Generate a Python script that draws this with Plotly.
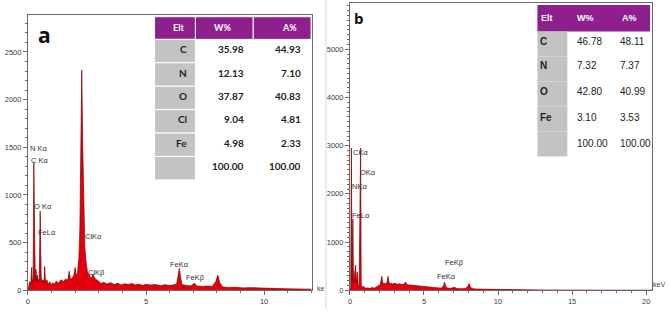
import plotly.graph_objects as go

W, H = 669, 314

# ---------------- data: panel a ----------------
spectrum_a = [
    (0.00, 0), (0.04, 40), (0.08, 90), (0.12, 60), (0.16, 240), (0.19, 70), (0.22, 120),
    (0.25, 1340), (0.28, 150), (0.31, 90), (0.34, 220), (0.37, 110), (0.40, 160), (0.44, 90),
    (0.48, 130), (0.52, 830), (0.56, 140), (0.60, 90), (0.64, 110), (0.68, 80), (0.71, 250),
    (0.74, 90), (0.80, 110), (0.86, 60), (0.92, 90), (1.00, 55), (1.05, 80), (1.10, 60),
    (1.20, 95), (1.30, 75), (1.40, 110), (1.50, 90), (1.60, 120), (1.68, 100), (1.75, 200),
    (1.80, 110), (1.88, 130), (1.95, 160), (2.00, 240), (2.05, 150), (2.10, 180), (2.16, 350),
    (2.20, 650), (2.24, 1400), (2.28, 2310), (2.32, 1500), (2.36, 800), (2.41, 450), (2.46, 300),
    (2.52, 190), (2.60, 160), (2.68, 120), (2.76, 170), (2.82, 130), (2.90, 110), (3.00, 95),
    (3.10, 70), (3.20, 85), (3.35, 65), (3.50, 80), (3.65, 60), (3.80, 75), (3.95, 55),
    (4.10, 70), (4.25, 60), (4.40, 72), (4.55, 55), (4.70, 65), (4.85, 50), (5.00, 62),
    (5.20, 55), (5.40, 60), (5.60, 48), (5.80, 58), (6.00, 50), (6.15, 55), (6.30, 70),
    (6.36, 150), (6.41, 230), (6.46, 140), (6.52, 60), (6.70, 50), (6.90, 45), (7.05, 75),
    (7.15, 45), (7.40, 40), (7.60, 45), (7.80, 40), (7.95, 90), (8.04, 160), (8.12, 80),
    (8.25, 35), (8.50, 30), (8.80, 32), (9.10, 25), (9.40, 28), (9.80, 22), (10.2, 20),
    (10.6, 18), (11.0, 15), (11.4, 14), (11.8, 12), (12.0, 12),
]
peak_labels_a = [
    ("N Kα", 0.0, 1490), ("C Kα", 0.03, 1360), ("O Kα", 0.16, 880), ("FeLα", 0.35, 610),
    ("ClKα", 2.35, 560), ("ClKβ", 2.45, 185), ("FeKα", 5.95, 270), ("FeKβ", 6.6, 135),
]
x_ticks_a = [0, 5, 10]
y_ticks_a = [0, 500, 1000, 1500, 2000, 2500]
table_a_header = ["Elt", "W%", "A%"]
table_a_elt = ["C", "N", "O", "Cl", "Fe", ""]
table_a_w = ["35.98", "12.13", "37.87", "9.04", "4.98", "100.00"]
table_a_a = ["44.93", "7.10", "40.83", "4.81", "2.33", "100.00"]

# ---------------- data: panel b ----------------
spectrum_b = [
    (0.00, 0), (0.05, 60), (0.10, 2950), (0.13, 200), (0.20, 1480), (0.24, 150), (0.30, 300),
    (0.38, 520), (0.43, 160), (0.50, 380), (0.55, 120), (0.62, 90), (0.72, 2950), (0.76, 120),
    (0.85, 60), (0.95, 80), (1.05, 40), (1.20, 50), (1.35, 35), (1.50, 60), (1.65, 45),
    (1.80, 75), (1.95, 90), (2.05, 120), (2.15, 290), (2.22, 140), (2.30, 150), (2.40, 130),
    (2.50, 160), (2.57, 290), (2.64, 150), (2.75, 140), (2.90, 130), (3.05, 145), (3.20, 125),
    (3.35, 135), (3.50, 120), (3.65, 125), (3.75, 170), (3.85, 115), (4.00, 110), (4.20, 100),
    (4.40, 95), (4.60, 85), (4.80, 80), (5.00, 70), (5.20, 65), (5.40, 60), (5.60, 55),
    (5.80, 52), (6.00, 50), (6.20, 48), (6.32, 100), (6.38, 170), (6.45, 90), (6.60, 45),
    (6.80, 40), (7.05, 65), (7.20, 35), (7.50, 32), (7.80, 35), (7.95, 80), (8.05, 140),
    (8.15, 60), (8.30, 30), (8.60, 25), (9.00, 22), (9.50, 18), (10.0, 15), (10.5, 12),
    (11.0, 10), (12.0, 8), (13.0, 6), (14.0, 5), (15.0, 4), (16.0, 3), (17.0, 3),
    (18.0, 2), (19.0, 2), (20.0, 2), (20.4, 2),
]
peak_labels_b = [
    ("CKα", 0.05, 2850), ("OKα", 0.55, 2450), ("NKα", 0.0, 2150), ("FeLα", 0.0, 1560),
    ("FeKβ", 6.3, 580), ("FeKα", 5.75, 290),
]
x_ticks_b = [0, 5, 10, 15, 20]
y_ticks_b = [0, 1000, 2000, 3000, 4000, 5000]
table_b_header = ["Elt", "W%", "A%"]
table_b_elt = ["C", "N", "O", "Fe", ""]
table_b_w = ["46.78", "7.32", "42.80", "3.10", "100.00"]
table_b_a = ["48.11", "7.37", "40.99", "3.53", "100.00"]

# ---------------- styling ----------------
NARROW = "Liberation Sans Narrow, Arial Narrow, Liberation Sans, Arial"
TABLE_FONT = "Lato, Open Sans, Liberation Sans"
RED = "#e3000b"
DARK = "#7a0000"
AXC = "#6a6a6a"
PURPLE = "#8e1f8c"
GREY = "#c3c3c3"


def px_x(p):
    return p / W


def px_y(p):
    return 1 - p / H


fig = go.Figure()

for spec, xa, ya in [(spectrum_a, "x", "y"), (spectrum_b, "x2", "y2")]:
    ex = [p[0] for p in spec]
    cy = [p[1] for p in spec]
    fig.add_trace(go.Scatter(
        x=ex, y=cy, mode="lines", fill="tozeroy", fillcolor=RED,
        line=dict(color=DARK, width=0.7), xaxis=xa, yaxis=ya, showlegend=False,
        hoverinfo="skip",
    ))

axis_common = dict(showgrid=False, zeroline=False, showline=True, mirror=True,
                   linecolor=AXC, linewidth=1, ticks="outside", ticklen=4,
                   tickcolor=AXC, tickfont=dict(family=NARROW, size=7.5, color="#3a3a3a"))

fig.update_layout(
    width=W, height=H, margin=dict(l=0, r=0, t=0, b=0),
    paper_bgcolor="white", plot_bgcolor="white",
    xaxis=dict(domain=[px_x(26), px_x(311)], range=[0, 12.03], anchor="y",
               tickvals=x_ticks_a, minor=dict(dtick=1, ticklen=2, ticks="outside", tickcolor=AXC),
               **axis_common),
    yaxis=dict(domain=[px_y(295), px_y(15)], range=[0, 2890], anchor="x",
               tickvals=y_ticks_a, minor=dict(dtick=100, ticklen=2, ticks="outside", tickcolor=AXC),
               **axis_common),
    xaxis2=dict(domain=[px_x(349), px_x(652)], range=[0, 20.4], anchor="y2",
                tickvals=x_ticks_b, minor=dict(dtick=1, ticklen=2, ticks="outside", tickcolor=AXC),
                **axis_common),
    yaxis2=dict(domain=[px_y(295), px_y(3)], range=[0, 5960], anchor="x2",
                tickvals=y_ticks_b, minor=dict(dtick=100, ticklen=2, ticks="outside", tickcolor=AXC),
                **axis_common),
)

shapes = []
anns = []


def rect(x0, y0, x1, y1, fill, line="white", lw=1):
    shapes.append(dict(type="rect", xref="paper", yref="paper", x0=px_x(x0), x1=px_x(x1),
                       y0=px_y(y1), y1=px_y(y0), fillcolor=fill,
                       line=dict(color=line, width=lw), layer="above"))


def text(t, x, y, anchor, size, color, family, bold=False):
    anns.append(dict(text=("<b>%s</b>" % t) if bold else t, x=px_x(x), y=px_y(y),
                     xref="paper", yref="paper", xanchor=anchor, yanchor="middle",
                     showarrow=False, font=dict(family=family, size=size, color=color)))


# ---- table a ----
cols_a = [153, 194, 252, 310]
hdr_a = (17, 40)
row_h_a = 23.8
for c in range(3):
    rect(cols_a[c], hdr_a[0], cols_a[c + 1], hdr_a[1], PURPLE, "white", 1)
for r in range(len(table_a_elt)):
    y0 = hdr_a[1] + r * row_h_a
    rect(cols_a[0], y0, cols_a[1], y0 + row_h_a, GREY, "white", 1)
rect(cols_a[1], hdr_a[1], cols_a[3], hdr_a[1] + row_h_a * len(table_a_elt), "white", "white", 0)

hdr_x_a = [185, 232, 298]
for c, h in enumerate(table_a_header):
    text(h, hdr_x_a[c], 28, "right", 9, "white", TABLE_FONT, bold=True)
for r in range(len(table_a_elt)):
    yc = hdr_a[1] + r * row_h_a + 10
    text(table_a_elt[r], 188, yc, "right", 10, "#222", TABLE_FONT, bold=True)
    text(table_a_w[r], 245, yc, "right", 10, "#222", TABLE_FONT, bold=True)
    text(table_a_a[r], 302, yc, "right", 10, "#222", TABLE_FONT, bold=True)

# ---- table b ----
cols_b = [537, 567, 608, 650]
hdr_b = (5, 32)
row_h_b = 25.4
rect(cols_b[0], hdr_b[0], cols_b[3], hdr_b[1], PURPLE, PURPLE, 0)
for r in range(len(table_b_elt)):
    y0 = hdr_b[1] + r * row_h_b
    rect(cols_b[0], y0, cols_b[1], y0 + row_h_b, GREY, GREY, 0)

hdr_x_b = [539, 575, 620]
for c, h in enumerate(table_b_header):
    text(h, hdr_x_b[c], 18, "left", 9, "white", NARROW, bold=True)
row_y_b = [42, 67, 93, 119, 146]
for r in range(len(table_b_elt)):
    yc = row_y_b[r]
    text(table_b_elt[r], 538, yc, "left", 10, "#222", NARROW, bold=True)
    text(table_b_w[r], 575, yc, "left", 10, "#222", NARROW)
    text(table_b_a[r], 618, yc, "left", 10, "#222", NARROW)

# ---- peak labels ----
for txt, ex, cy in peak_labels_a:
    anns.append(dict(text=txt, x=ex, y=cy, xref="x", yref="y", xanchor="left", yanchor="middle",
                     showarrow=False, font=dict(family=NARROW, size=7.5, color="#333")))
for txt, ex, cy in peak_labels_b:
    anns.append(dict(text=txt, x=ex, y=cy, xref="x2", yref="y2", xanchor="left", yanchor="middle",
                     showarrow=False, font=dict(family=NARROW, size=7.5, color="#333")))

text("ke", 314, 293, "left", 7, "#444", NARROW)
text("keV", 667, 289, "right", 7, "#444", NARROW)
text("a", 34, 36, "left", 21, "#111", "Open Sans, Liberation Sans", bold=True)
text("b", 351, 18, "left", 15, "#111", "Open Sans, Liberation Sans", bold=True)

shapes.append(dict(type="line", xref="paper", yref="paper", x0=px_x(325), x1=px_x(325),
                   y0=0, y1=1, line=dict(color="#d6d6d6", width=1)))

fig.update_layout(shapes=shapes, annotations=anns)

fig.write_html(
    "out.html",
    config={"displayModeBar": False},
    post_script="document.body.style.margin='0';document.body.style.padding='0';"
                "document.body.style.overflow='hidden';"
                "document.documentElement.style.overflow='hidden';",
)
